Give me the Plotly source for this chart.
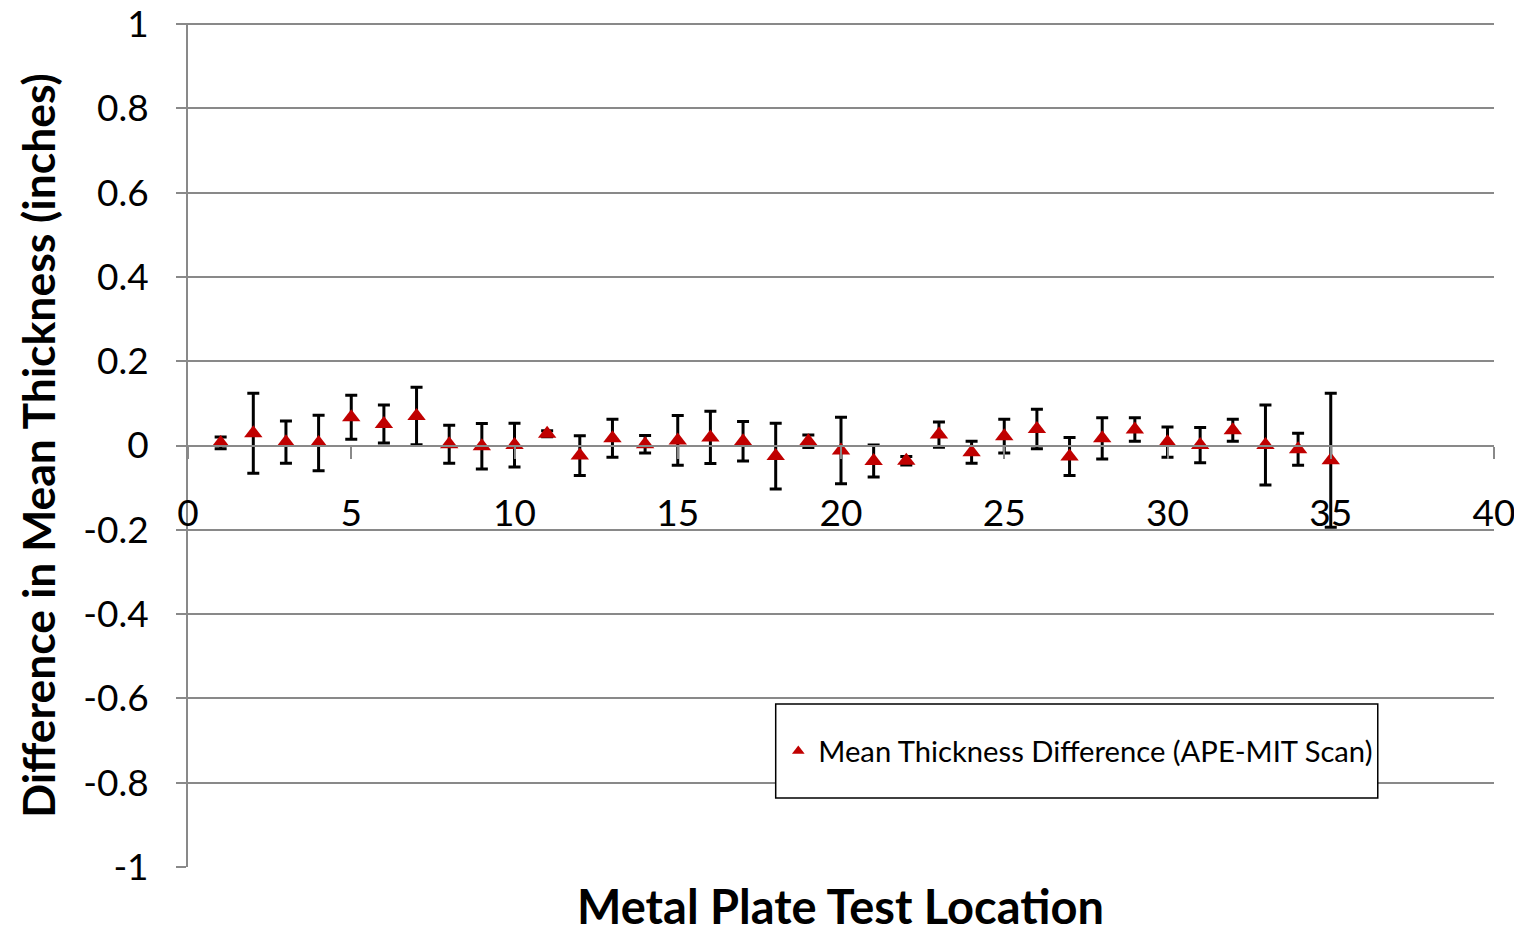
import plotly.graph_objects as go

locations = list(range(1, 36))
mean_diff = [0.006, 0.029, 0.008, 0.006, 0.067, 0.051, 0.070, 0.003, -0.002, 0.001,
             0.028, -0.024, 0.017, 0.003, 0.012, 0.019, 0.010, -0.025, 0.010, -0.012,
             -0.037, -0.036, 0.026, -0.016, 0.022, 0.039, -0.026, 0.017, 0.038, 0.008,
             0.001, 0.036, 0.001, -0.009, -0.035]
err = [0.014, 0.095, 0.050, 0.066, 0.052, 0.045, 0.068, 0.045, 0.054, 0.052,
       0.007, 0.047, 0.045, 0.021, 0.059, 0.062, 0.047, 0.078, 0.015, 0.079,
       0.038, 0.010, 0.030, 0.026, 0.040, 0.047, 0.045, 0.049, 0.028, 0.036,
       0.042, 0.026, 0.095, 0.038, 0.159]

x_ticks = [0, 5, 10, 15, 20, 25, 30, 35, 40]
y_ticks = [1, 0.8, 0.6, 0.4, 0.2, 0, -0.2, -0.4, -0.6, -0.8, -1]
y_labels = ["1", "0.8", "0.6", "0.4", "0.2", "0", "-0.2", "-0.4", "-0.6", "-0.8", "-1"]

series_name = "Mean Thickness Difference (APE-MIT Scan)"
font_family = "Lato, 'Open Sans', sans-serif"
red = "#C00000"
grid = "#898989"

fig = go.Figure()
fig.add_trace(go.Scatter(
    x=locations, y=mean_diff, mode="markers", name=series_name, showlegend=False,
    marker=dict(symbol="triangle-up", color=red, size=16),
    error_y=dict(type="data", array=err, visible=True, color="black", thickness=3, width=6),
))
# legend-only entry (smaller marker, as in the reference legend)
fig.add_trace(go.Scatter(
    x=[None], y=[None], mode="markers", name=series_name, showlegend=True,
    marker=dict(symbol="triangle-up", color=red, size=11),
))

fig.update_layout(
    width=1514, height=919,
    paper_bgcolor="white", plot_bgcolor="white",
    margin=dict(l=180, r=28, t=16, b=60, autoexpand=False),
    font=dict(family=font_family, color="black"),
    showlegend=True,
    legend=dict(
        x=0.452, y=0.1376, xanchor="left", yanchor="middle",
        borderwidth=0, bgcolor="rgba(0,0,0,0)",
        font=dict(size=29.2, family=font_family),
    ),
    xaxis=dict(
        range=[0, 40], tickvals=x_ticks, showgrid=False, automargin=False,
        showline=True, linecolor=grid, linewidth=2,
        ticks="outside", ticklen=12, tickcolor=grid, tickwidth=2,
        tickfont=dict(size=37), anchor="free", position=0.5,
        ticklabelstandoff=23, zeroline=False, ticklabeloverflow="allow",
    ),
    yaxis=dict(
        range=[-1, 1], tickvals=y_ticks, ticktext=y_labels, automargin=False,
        showgrid=True, gridcolor=grid, gridwidth=2,
        showline=True, linecolor=grid, linewidth=2,
        ticks="outside", ticklen=10, tickcolor=grid, tickwidth=2,
        tickfont=dict(size=37), ticklabelstandoff=20, zeroline=False,
        ticklabeloverflow="allow",
        title=dict(text="<b>Difference in Mean Thickness (inches)</b>", font=dict(size=44.5), standoff=14),
    ),
)

# top gridline at y = 1 (plotly omits the gridline at the range edge)
fig.add_shape(type="line", xref="paper", yref="paper", x0=-10/1306, x1=1, y0=1, y1=1,
              line=dict(color=grid, width=2), layer="below")
# legend frame
fig.add_shape(type="rect", xref="paper", yref="paper", x0=0.450, x1=0.911, y0=0.0819, y1=0.1934,
              line=dict(color="black", width=1.5), fillcolor="white", layer="above")

fig.add_annotation(
    text="<b>Metal Plate Test Location</b>", xref="paper", yref="paper",
    x=(840 - 188) / 1306, y=-0.046, xanchor="center", yanchor="middle", showarrow=False,
    font=dict(size=47, family=font_family),
)

fig.write_html("out.html")
